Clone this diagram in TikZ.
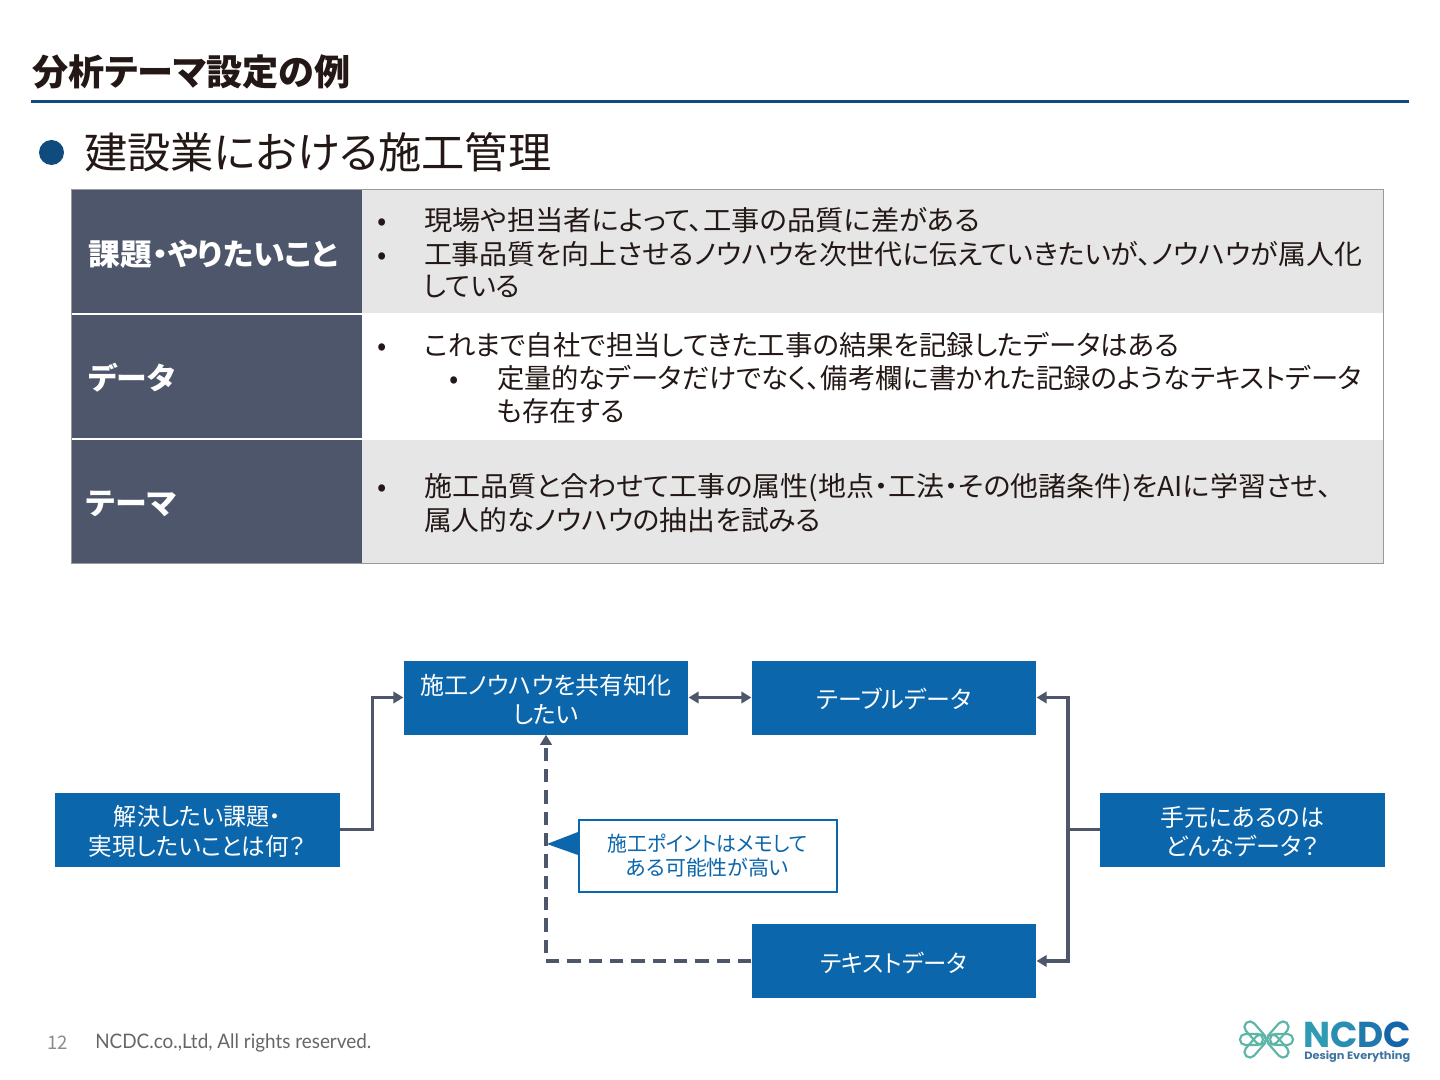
\documentclass[tikz,border=0pt]{standalone}
\usepackage{fontspec}
\usepackage{graphicx}
\setmainfont{Noto Sans CJK JP}[RawFeature=+palt]
\newfontfamily\logofont{Poppins}[BoldFont={Poppins Bold}]
\newfontfamily\footfont{Lato}
\newcommand\fitw[2]{\resizebox{\dimexpr #1pt*3/4\relax}{\height}{#2}}
\usetikzlibrary{arrows.meta,calc}
\definecolor{ink}{HTML}{231815}
\definecolor{navy}{HTML}{0F4C7D}
\definecolor{slate}{HTML}{4D566A}
\definecolor{boxblue}{HTML}{0B66AB}
\definecolor{rowgray}{HTML}{E6E6E6}
\definecolor{teal1}{HTML}{5DB5A8}
\definecolor{tagblue}{HTML}{3F76A0}
\tikzset{
 x=0.75pt,y=-0.75pt,
 txt/.style={inner sep=0pt,outer sep=0pt,anchor=base west,yshift=-1.1pt,text=ink,font=\fontsize{20.5}{24}\selectfont},
 head/.style={inner sep=0pt,anchor=base west,yshift=-1.1pt,text=white,font=\fontsize{22.5}{26}\selectfont\bfseries},
 flowbox/.style={fill=boxblue,text=white,inner sep=0pt,align=center,minimum width=213.5pt,minimum height=55.5pt,font=\fontsize{18}{22}\selectfont},
 link/.style={draw=slate,line width=2.4pt},
 tip/.style={-{Triangle[length=7.5pt,width=8.5pt]}},
 loop1/.style={draw=teal1,line width=1.6pt,rounded corners=4pt,fill=none},
}
\begin{document}
\begin{tikzpicture}
\useasboundingbox (0,0) rectangle (1440,1080);
\fill[white] (0,0) rectangle (1440,1080);
% title
\node[inner sep=0pt,anchor=west,text=ink,font=\fontsize{27}{32}\selectfont\bfseries] (title) at (32,71.5) {\fitw{318}{分析テーマ設定の例}};
\fill[navy] (31,100) rectangle (1409,103.5);
\fill[navy] (51.5,152.5) circle (12.5);
\node[inner sep=0pt,anchor=west,text=ink,font=\fontsize{32}{38}\selectfont] (sub) at (84,152) {\fitw{467}{建設業における施工管理}};
% table
\fill[rowgray] (362,190) rectangle (1383.5,313);
\fill[rowgray] (362,440) rectangle (1383.5,563);
\fill[slate] (71.5,190) rectangle (362,313);
\fill[slate] (71.5,315) rectangle (362,438);
\fill[slate] (71.5,440) rectangle (362,563.5);
\draw[color=gray!80,line width=0.75pt] (71.5,190) rectangle (1383.5,563.5);
\node[head] (h1) at (88,264) {\fitw{250}{課題・やりたいこと}};
\node[head] (h2) at (88,388) {\fitw{87}{データ}};
\node[head] (h3) at (86,513) {\fitw{90}{テーマ}};
\node[txt] (b1) at (377,229) {•};
\node[txt] (t1) at (424,229) {\fitw{556}{現場や担当者によって、工事の品質に差がある}};
\node[txt] (b2) at (377,263) {•};
\node[txt] (t2) at (424,263) {\fitw{938}{工事品質を向上させるノウハウを次世代に伝えていきたいが、ノウハウが属人化}};
\node[txt] (t3) at (424,295) {\fitw{96}{している}};
\node[txt] (b3) at (377,354) {•};
\node[txt] (t4) at (424,354) {\fitw{755}{これまで自社で担当してきた工事の結果を記録したデータはある}};
\node[txt] (b4) at (449,387) {•};
\node[txt] (t5) at (497,387) {\fitw{865}{定量的なデータだけでなく、備考欄に書かれた記録のようなテキストデータ}};
\node[txt] (t6) at (497,420) {\fitw{128}{も存在する}};
\node[txt] (b5) at (377,495) {•};
\node[txt] (t7) at (424,495) {\fitw{908}{施工品質と合わせて工事の属性(地点・工法・その他諸条件)をAIに学習させ、}};
\node[txt] (t8) at (424,529) {\fitw{397}{属人的なノウハウの抽出を試みる}};
% flow
\node[flowbox] (share) at (546,697.5) {\rule{0pt}{18pt}施工ノウハウを共有知化\\したい};
\node[flowbox] (table) at (894,697.5) {\rule{0pt}{18pt}テーブルデータ};
\node[flowbox] (goal) at (197.5,829.5) {\rule{0pt}{18pt}\fitw{167}{解決したい課題・}\\\fitw{217}{実現したいことは何？}};
\node[flowbox] (hand) at (1242.5,829.5) {\rule{0pt}{18pt}手元にあるのは\\どんなデータ？};
\node[flowbox] (text) at (894,961) {\rule{0pt}{18pt}\fitw{147}{テキストデータ}};
\coordinate (trunk) at (1068,829.5);
\draw[link,tip] (goal.east) -- ++(32,0) |- (share.west);
\draw[link,{Triangle[length=7.5pt,width=8.5pt]}-{Triangle[length=7.5pt,width=8.5pt]}] (share.east) -- (table.west);
\draw[link] (hand.west) -- (trunk);
\draw[link,tip] (trunk) |- (table.east);
\draw[link,tip] (trunk) |- (text.east);
\draw[link,tip,dash pattern=on 10pt off 6pt] (text.west) -| (share.south);
% note
\node[draw=boxblue,fill=white,line width=1.5pt,text=boxblue,inner sep=0pt,align=center,minimum width=193.5pt,minimum height=54pt,font=\fontsize{15.5}{17.5}\selectfont] (note) at (707.5,855.5) {\fitw{200}{施工ポイントはメモして}\\\fitw{163}{ある可能性が高い}};
\fill[boxblue] (578,832) -- (578,855) -- (547,844) -- cycle;
% footer
\node[inner sep=0pt,anchor=west,text=gray!90,font=\fontsize{14}{16}\selectfont] (pg) at (47,1042.5) {12};
\node[inner sep=0pt,anchor=west,text=gray!80!black,font=\footfont\fontsize{15}{18}\selectfont] (copy) at (95,1043) {\fitw{276}{NCDC.co.,Ltd, All rights reserved.}};
% logo
\draw[loop1] (1250.5,1019.2) -- (1268.3,1039.5) -- (1260,1046.8) -- (1242.2,1026.5) -- cycle;
\draw[loop1] (1250.5,1059.8) -- (1268.3,1039.5) -- (1260,1032.2) -- (1242.2,1052.5) -- cycle;
\draw[loop1] (1282.5,1019.2) -- (1264.7,1039.5) -- (1273,1046.8) -- (1290.8,1026.5) -- cycle;
\draw[loop1] (1282.5,1059.8) -- (1264.7,1039.5) -- (1273,1032.2) -- (1290.8,1052.5) -- cycle;
\draw[loop1] (1240,1034) rectangle (1263,1045);
\draw[loop1] (1270,1034) rectangle (1293,1045);
\node[inner sep=0pt,anchor=base west,text height=18pt,text depth=0pt,font=\logofont\bfseries\fontsize{27}{30}\selectfont] (logo) at (1303,1047) {\fitw{108}{\textcolor[HTML]{2F9AB3}{N}\textcolor[HTML]{2A8DB2}{C}\textcolor[HTML]{1F78AE}{D}\textcolor[HTML]{1566A8}{C}}};
\node[inner sep=0pt,anchor=base west,text height=6pt,text depth=0pt,text=tagblue,font=\logofont\bfseries\fontsize{8}{10}\selectfont] (tag) at (1304,1059) {\fitw{106}{Design Everything}};
\end{tikzpicture}
\end{document}
